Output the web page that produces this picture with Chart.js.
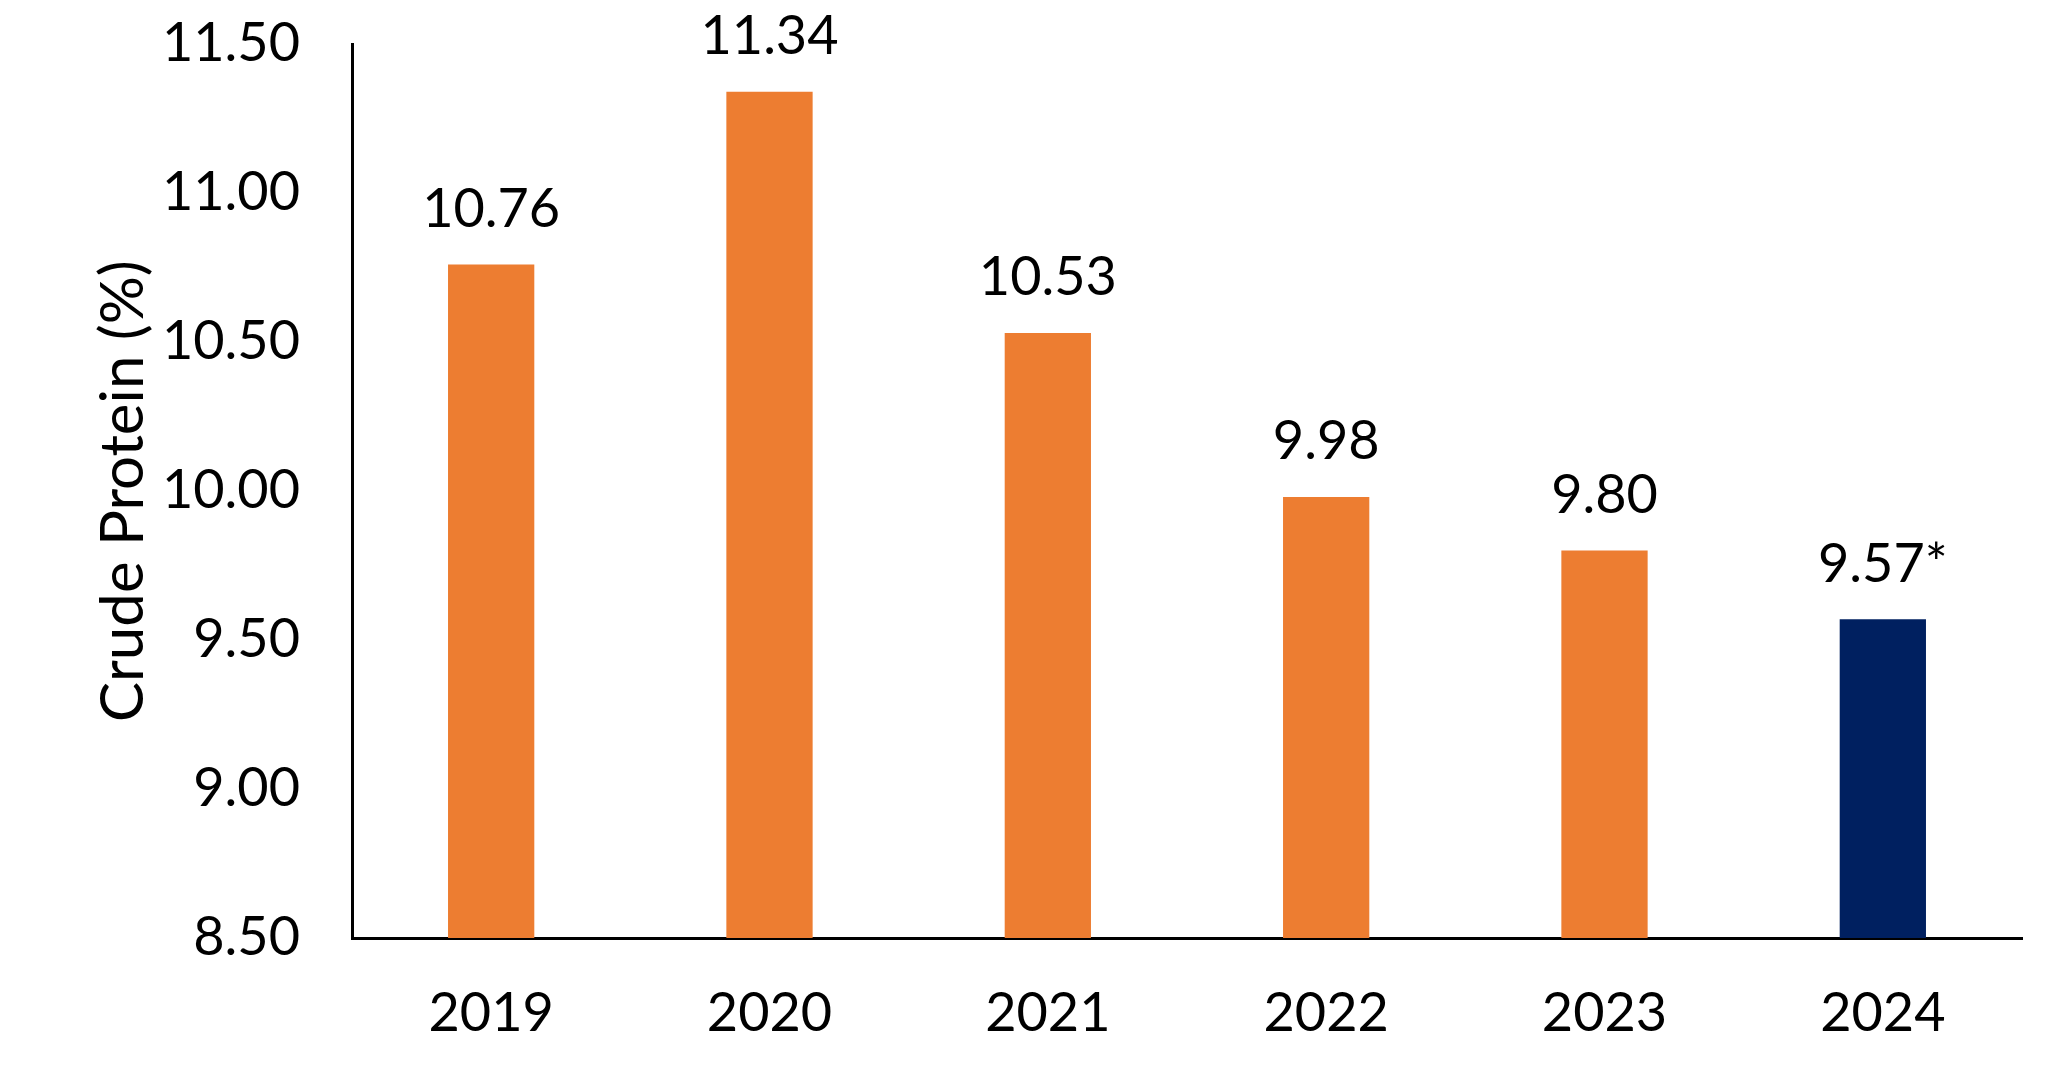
<!DOCTYPE html>
<html>
<head>
<meta charset="utf-8">
<script src="https://cdn.jsdelivr.net/npm/chart.js@4.4.1/dist/chart.umd.min.js"></script>
<style>
  html, body { margin: 0; padding: 0; background: #fff; }
  #wrap { width: 2068px; height: 1065px; }
</style>
</head>
<body>
<div id="wrap"><canvas id="cpChart"></canvas></div>
<script>
// data
const years = ['2019', '2020', '2021', '2022', '2023', '2024'];
const crudeProtein = [10.76, 11.34, 10.53, 9.98, 9.80, 9.57];
const labelSuffix = ['', '', '', '', '', '*'];
const barColors = ['#ED7D31', '#ED7D31', '#ED7D31', '#ED7D31', '#ED7D31', '#002060'];
const yTicks = [8.5, 9.0, 9.5, 10.0, 10.5, 11.0, 11.5];

const FONT = "Lato, 'Open Sans', sans-serif";

// value labels above bars
const valueLabels = {
  id: 'valueLabels',
  afterDatasetsDraw(chart) {
    const c = chart.ctx;
    const meta = chart.getDatasetMeta(0);
    c.save();
    c.font = `54px ${FONT}`;
    c.fillStyle = '#000';
    c.textAlign = 'center';
    c.textBaseline = 'middle';
    meta.data.forEach((bar, i) => {
      const txt = crudeProtein[i].toFixed(2) + labelSuffix[i];
      c.fillText(txt, bar.x, bar.y - 55);
    });
    c.restore();
  }
};

new Chart(document.getElementById('cpChart'), {
  type: 'bar',
  data: {
    labels: years,
    datasets: [{
      data: crudeProtein,
      backgroundColor: barColors,
      borderWidth: 0,
      barPercentage: 0.31,
      categoryPercentage: 1.0,
    }]
  },
  options: {
    responsive: true,
    maintainAspectRatio: false,
    animation: false,
    layout: { padding: { top: 44, right: 46, left: 0, bottom: 0 } },
    plugins: {
      legend: { display: false },
      tooltip: { enabled: false }
    },
    scales: {
      x: {
        grid: { display: false, drawTicks: false },
        border: { display: true, color: '#000', width: 3 },
        ticks: { color: '#000', font: { family: FONT, size: 54 }, padding: 43 },
        afterFit: s => { s.height = 127; }
      },
      y: {
        min: 8.5, max: 11.5,
        afterBuildTicks: s => { s.ticks = yTicks.map(v => ({ value: v })); },
        grid: { display: false, drawTicks: false },
        border: { display: true, color: '#000', width: 3 },
        ticks: {
          color: '#000',
          font: { family: FONT, size: 54 },
          padding: 52,
          callback: v => Number(v).toFixed(2)
        },
        title: {
          display: true,
          text: 'Crude Protein (%)',
          color: '#000',
          font: { family: FONT, size: 60, weight: 'normal' },
          padding: { top: 88, bottom: 0 }
        },
        afterFit: s => { s.width = 352; s.paddingTop = 0; s.paddingBottom = 0; }
      }
    }
  },
  plugins: [valueLabels]
});
</script>
</body>
</html>
